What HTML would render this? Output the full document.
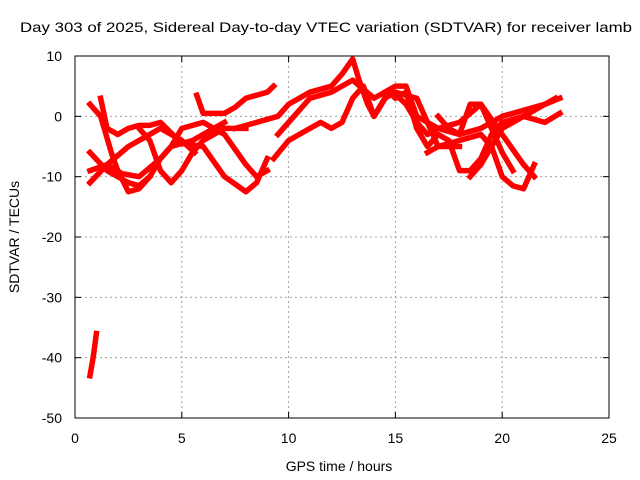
<!DOCTYPE html>
<html><head><meta charset="utf-8"><style>
body{margin:0;background:#fff}
svg{display:block;font-family:"Liberation Sans",sans-serif;font-size:14px}
</style></head><body>
<svg id="chart" width="640" height="480">
<g id="grid"></g>
<g id="axes"></g>
<g id="series"></g>
<text x="20" y="32" textLength="612" lengthAdjust="spacingAndGlyphs">Day 303 of 2025, Sidereal Day-to-day VTEC variation (SDTVAR) for receiver lamb</text>
<text x="339" y="471" text-anchor="middle">GPS time / hours</text>
<text transform="translate(19,237) rotate(-90)" text-anchor="middle">SDTVAR / TECUs</text>
</svg>
<script>
const xTicks=[0,5,10,15,20,25];
const yTicks=[10,0,-10,-20,-30,-40,-50];
const traces=[
[[0.7,2],[1.2,0],[1.7,-6],[2.0,-9],[2.5,-12.5],[3.0,-12],[3.5,-10],[4.0,-7],[4.5,-5],[5.5,-4],[6.5,-2],[7.0,-1]],
[[1.2,3],[1.5,-2],[2.0,-3],[2.5,-2],[3.0,-1.5],[3.5,-1.5],[4.0,-1],[5,-4.5],[6,-5],[7,-10],[8,-12.5],[8.5,-11],[9,-7]],
[[0.7,-11],[1.5,-8],[2.5,-5],[3.5,-3],[4.0,-2],[5.0,-4],[5.6,-6]],
[[0.7,-9],[1.5,-8],[2.2,-9.5],[3,-10],[4,-7],[4.5,-5],[5,-2],[6,-1],[7,-3],[8,-8],[8.5,-10],[9,-9]],
[[0.7,-6],[1.5,-9],[2.5,-11],[3,-11.5],[3.5,-10]],
[[3.0,-2],[3.5,-4],[4,-9],[4.5,-11],[5,-9],[5.5,-6],[6,-4],[7,-2],[8,-2]],
[[5.7,3.5],[6,0.5],[7,0.5],[7.5,1.5],[8,3],[9,4],[9.3,5]],
[[7.5,-2],[8.5,-1],[9.5,0],[10,2],[11,4],[12,5],[12.5,7],[13,9.5],[13.3,6],[13.7,2],[14,0],[14.5,3],[15,4],[16,3],[16.5,-1],[17,-5],[18,-5]],
[[9.5,-3],[10,-1],[10.5,1],[11,3],[12,4],[12.5,5],[13,6],[14,3],[15,5],[15.5,5],[16,0],[17,-2],[18,-3],[19,-2],[20,0],[21,1],[22,2],[22.7,3]],
[[9.3,-7],[10,-4],[11,-2],[11.5,-1],[12,-2],[12.5,-1],[13,3],[13.5,5],[14,0],[14.7,4],[15,3],[15.5,4],[16,-2],[16.5,-5],[17,-3],[17.5,-4],[18,-9],[18.5,-9],[19,-7],[19.5,-3],[20,-1],[21,0],[22,-1],[22.7,0.5]],
[[16.5,-6],[17,-5],[18,-4],[19,-3],[19.5,-5],[20,-10],[20.5,-11.5],[21,-12],[21.5,-8]],
[[17,0],[17.5,-2],[18,-3],[18.5,2],[19,2],[19.5,-2],[20,-6],[20.5,-9]],
[[18.5,-10],[19,-8],[19.5,-5],[20,-2],[20.5,-1],[21,0],[21.5,1],[22,2],[22.5,3]],
[[15.2,3],[15.5,2],[16,-1],[16.5,-3],[17,-2],[18,-1],[19,2],[20,-3],[21,-8],[21.5,-10]],
[[0.7,-43],[0.85,-40],[1.0,-36]]
];
const L=75,R=609,T=56,B=418;
const X=h=>L+(h-0)/25*(R-L);
const Y=v=>T+(10-v)/60*(B-T);
const NS="http://www.w3.org/2000/svg";
function mk(tag,parent,attrs){const e=document.createElementNS(NS,tag);for(const k in attrs)e.setAttribute(k,attrs[k]);parent.appendChild(e);return e;}
const grid=document.getElementById('grid'),axes=document.getElementById('axes'),ser=document.getElementById('series');
xTicks.forEach(t=>{
  const x=X(t);
  if(t>0&&t<25){const g=mk('line',grid,{x1:x,x2:x,y1:T,y2:B,stroke:'#a0a0a0','stroke-dasharray':'2,3'});
  
  }
  mk('line',axes,{x1:x,x2:x,y1:B,y2:B-6,stroke:'#000'});
  mk('line',axes,{x1:x,x2:x,y1:T,y2:T+6,stroke:'#000'});
  const lb=mk('text',axes,{x:x,y:443,'text-anchor':'middle'});lb.textContent=t;
  
  
});
yTicks.forEach(t=>{
  const y=Y(t);
  if(t<10&&t>-50){const g=mk('line',grid,{x1:L,x2:R,y1:y,y2:y,stroke:'#a0a0a0','stroke-dasharray':'2,3'});
  
  }
  mk('line',axes,{x1:L,x2:L+6,y1:y,y2:y,stroke:'#000'});
  mk('line',axes,{x1:R,x2:R-6,y1:y,y2:y,stroke:'#000'});
  const lb=mk('text',axes,{x:62,y:y+5,'text-anchor':'end'});lb.textContent=t;
  
  
});
const box=mk('rect',axes,{x:L,y:T,width:R-L,height:B-T,fill:'none',stroke:'#000'});


traces.forEach(tr=>{
  const p=mk('polyline',ser,{points:tr.map(d=>X(d[0])+','+Y(d[1])).join(' '),fill:'none',stroke:'#ff0000','stroke-width':5.5,'stroke-linejoin':'round','stroke-linecap':'square'});
  
  
});
</script>
</body></html>
